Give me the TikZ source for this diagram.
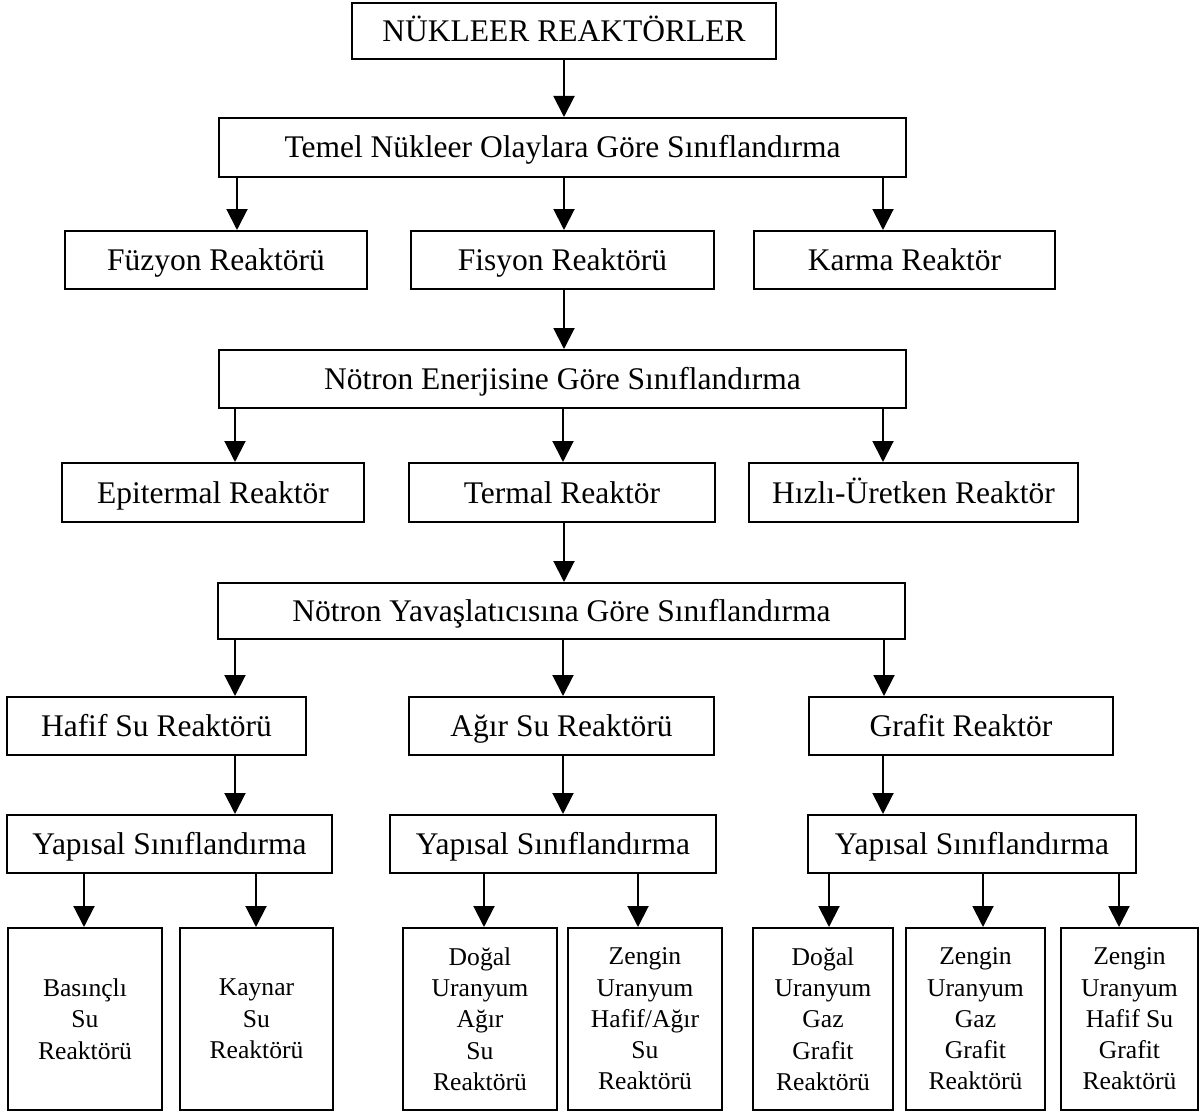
\documentclass[tikz,border=0pt]{standalone}
\usepackage{fontspec}
\setmainfont{Liberation Serif}
\usetikzlibrary{arrows.meta}

\begin{document}
\begin{tikzpicture}[x=0.5pt, y=-0.5pt]
        \tikzstyle{box} = [rectangle, draw, line width=1pt, inner sep=0pt, text centered, text height=14pt, text depth=3.5pt, minimum height=29pt, font=\fontsize{15.75}{19}\selectfont]
        \tikzstyle{leaf} = [rectangle, draw, line width=1pt, inner sep=0pt, align=center, minimum height=91pt, font=\fontsize{12.8}{15.65}\selectfont]
        \tikzstyle{flow} = [line width=1pt, -{Triangle[length=10.5pt, width=10.5pt]}]

        \useasboundingbox (0,0) rectangle (1200,1113);

        \node (nukleer) [box, minimum width=212pt, minimum height=28pt] at (564,31) {NÜKLEER REAKTÖRLER};

        \node (temel) [box, minimum width=343.5pt, minimum height=29.5pt] at (562.5,147.5) {Temel Nükleer Olaylara Göre Sınıflandırma};

        \node (fuzyon) [box, minimum width=151pt] at (216,260) {Füzyon Reaktörü};
        \node (fisyon) [box, minimum width=151.5pt] at (562.5,260) {Fisyon Reaktörü};
        \node (karma) [box, minimum width=150.5pt] at (904.5,260) {Karma Reaktör};

        \node (enerji) [box, minimum width=343.5pt] at (562.5,379) {Nötron Enerjisine Göre Sınıflandırma};

        \node (epitermal) [box, minimum width=151pt, minimum height=29.5pt] at (213,492.5) {Epitermal Reaktör};
        \node (termal) [box, minimum width=153pt, minimum height=29.5pt] at (562,492.5) {Termal Reaktör};
        \node (hizli) [box, minimum width=164.5pt, minimum height=29.5pt] at (913.5,492.5) {Hızlı-Üretken Reaktör};

        \node (yavas) [box, minimum width=343.5pt, minimum height=28pt] at (561.5,611) {Nötron Yavaşlatıcısına Göre Sınıflandırma};

        \node (hafif) [box, minimum width=149.5pt] at (156.5,726) {Hafif Su Reaktörü};
        \node (agir) [box, minimum width=152.5pt] at (561.5,726) {Ağır Su Reaktörü};
        \node (grafit) [box, minimum width=152pt] at (961,726) {Grafit Reaktör};

        \node (yapisalhafif) [box, minimum width=162.5pt] at (169.5,844) {Yapısal Sınıflandırma};
        \node (yapisalagir) [box, minimum width=163pt] at (553,844) {Yapısal Sınıflandırma};
        \node (yapisalgrafit) [box, minimum width=164pt] at (972,844) {Yapısal Sınıflandırma};

        \node (basincli) [leaf, minimum width=77pt] at (85,1019) {Basınçlı\\ Su\\ Reaktörü};
        \node (kaynar) [leaf, minimum width=76.5pt] at (256.5,1019) {Kaynar\\ Su\\ Reaktörü};
        \node (dogalagir) [leaf, minimum width=77pt] at (480,1019) {Doğal\\ Uranyum\\ Ağır\\ Su\\ Reaktörü};
        \node (zenginagir) [leaf, minimum width=77pt] at (645,1019) {Zengin\\ Uranyum\\ Hafif/Ağır\\ Su\\ Reaktörü};
        \node (dogalgaz) [leaf, minimum width=70pt] at (823,1019) {Doğal\\ Uranyum\\ Gaz\\ Grafit\\ Reaktörü};
        \node (zengingaz) [leaf, minimum width=69.5pt] at (975.5,1019) {Zengin\\ Uranyum\\ Gaz\\ Grafit\\ Reaktörü};
        \node (zenginhafif) [leaf, minimum width=68.5pt] at (1129.5,1019) {Zengin\\ Uranyum\\ Hafif Su\\ Grafit\\ Reaktörü};

        \draw [flow] (nukleer.south) -- (nukleer.south |- temel.north);

        \draw [flow] (temel.south -| 237,0) -- (fuzyon.north -| 237,0);
        \draw [flow] (temel.south -| 564,0) -- (fisyon.north -| 564,0);
        \draw [flow] (temel.south -| 883,0) -- (karma.north -| 883,0);

        \draw [flow] (fisyon.south -| 564,0) -- (enerji.north -| 564,0);

        \draw [flow] (enerji.south -| 235,0) -- (epitermal.north -| 235,0);
        \draw [flow] (enerji.south -| 563,0) -- (termal.north -| 563,0);
        \draw [flow] (enerji.south -| 883,0) -- (hizli.north -| 883,0);

        \draw [flow] (termal.south -| 564,0) -- (yavas.north -| 564,0);

        \draw [flow] (yavas.south -| 235,0) -- (hafif.north -| 235,0);
        \draw [flow] (yavas.south -| 563,0) -- (agir.north -| 563,0);
        \draw [flow] (yavas.south -| 884,0) -- (grafit.north -| 884,0);

        \draw [flow] (hafif.south -| 235,0) -- (yapisalhafif.north -| 235,0);
        \draw [flow] (agir.south -| 563,0) -- (yapisalagir.north -| 563,0);
        \draw [flow] (grafit.south -| 883,0) -- (yapisalgrafit.north -| 883,0);

        \draw [flow] (yapisalhafif.south -| 84,0) -- (basincli.north -| 84,0);
        \draw [flow] (yapisalhafif.south -| 256,0) -- (kaynar.north -| 256,0);
        \draw [flow] (yapisalagir.south -| 484,0) -- (dogalagir.north -| 484,0);
        \draw [flow] (yapisalagir.south -| 638,0) -- (zenginagir.north -| 638,0);
        \draw [flow] (yapisalgrafit.south -| 829,0) -- (dogalgaz.north -| 829,0);
        \draw [flow] (yapisalgrafit.south -| 983,0) -- (zengingaz.north -| 983,0);
        \draw [flow] (yapisalgrafit.south -| 1119,0) -- (zenginhafif.north -| 1119,0);
\end{tikzpicture}
\end{document}
